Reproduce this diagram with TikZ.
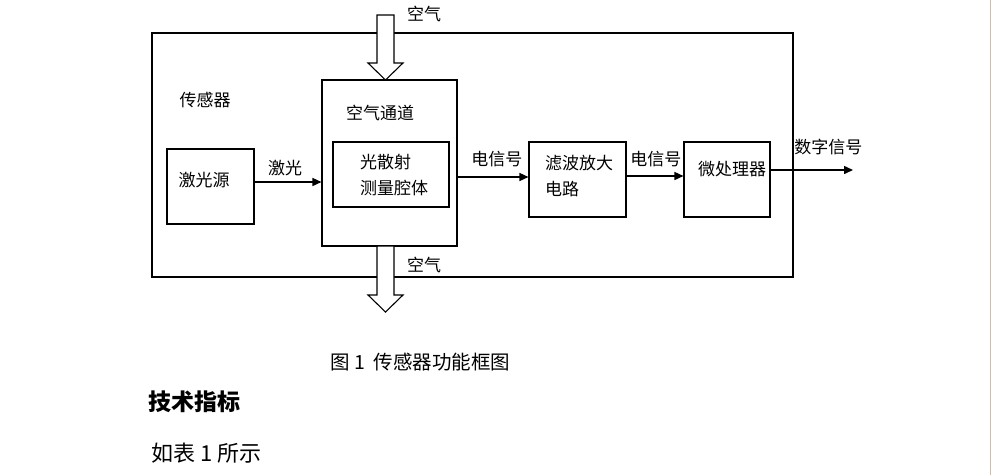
\documentclass[tikz,border=0pt]{standalone}
\usepackage{fontspec}
\newfontfamily\cjk{Noto Sans CJK SC}
\usetikzlibrary{arrows.meta}
\definecolor{pageedge}{RGB}{205,190,165}

\begin{document}
\begin{tikzpicture}[
  x=1pt, y=-1pt,
  >={Triangle[length=9pt,width=8pt]},
  box/.style={draw, line width=1.1pt, inner sep=0pt},
  lbl/.style={font=\cjk\fontsize{17}{26}\selectfont, inner sep=0pt},
  sig/.style={->, line width=1.5pt},
  air/.style={draw, line width=1.1pt, fill=white, line join=miter}
]
\useasboundingbox (0,0) rectangle (991,475);
\draw[pageedge, line width=0.8pt] (990,0) -- (990,475);

% sensor frame and blocks
\node[box, minimum width=641pt, minimum height=244pt] (sensor) at (472.5,155) {};
\node[box, minimum width=87pt,  minimum height=75pt]  (src)    at (210.5,186.5) {};
\node[box, minimum width=135pt, minimum height=166pt] (chan)   at (389.5,163) {};
\node[box, minimum width=116pt, minimum height=65pt]  (cell)   at (391,174.5) {};
\node[box, minimum width=97pt,  minimum height=75pt]  (filt)   at (577.5,179.5) {};
\node[box, minimum width=86pt,  minimum height=75pt]  (micro)  at (727,179.5) {};
\coordinate (out) at (853,170);

% texts
\node[lbl] (sensortxt) at (205,100) {传感器};
\node[lbl] (srctxt)    at (204,180) {激光源};
\node[lbl] (chantxt)   at (380,113) {空气通道};
\node[lbl, align=left, anchor=west] (celltxt) at (360,175) {光散射\\测量腔体};
\node[lbl, align=left, anchor=west] (filttxt) at (545,175.5) {滤波放大\\电路};
\node[lbl] (microtxt)  at (732,169) {微处理器};

% air flow
\draw[air] (377,15) -- (394,15) -- (394,63) -- (403,63) -- (385.5,80)
  -- (368,63) -- (377,63) -- cycle;
\draw[air] (377,246) -- (394,246) -- (394,295) -- (403,295) -- (385.5,312)
  -- (368,295) -- (377,295) -- cycle;
\node[lbl] (airin)  at (424,14)  {空气};
\node[lbl] (airout) at (424,265) {空气};

% signal path
\draw[sig] ([yshift=4.5pt]src.east) -- ([yshift=4.5pt]src.east -| chan.west)
  node[lbl, pos=0.456, yshift=14pt] {激光};
\draw[sig] ([yshift=2.5pt]filt.west -| chan.east) -- ([yshift=2.5pt]filt.west)
  node[lbl, pos=0.556, yshift=18pt] {电信号};
\draw[sig] ([yshift=3.5pt]filt.east) -- ([yshift=3.5pt]micro.west)
  node[lbl, pos=0.517, yshift=17pt] {电信号};
\draw[sig] (out -| micro.east) -- (out)
  node[lbl, pos=0.70, yshift=23pt] {数字信号};

% caption and text below
\node[lbl, anchor=west, font=\cjk\fontsize{19.5}{24}\selectfont] (caption) at (330,362)
  {图 1\ \ 传感器功能框图};
\node[lbl, anchor=west, font=\cjk\bfseries\fontsize{23}{28}\selectfont] (heading) at (148,402)
  {技术指标};
\node[lbl, anchor=west, font=\cjk\fontsize{22}{26}\selectfont] (body) at (151,453)
  {如表 1 所示};
\end{tikzpicture}
\end{document}
